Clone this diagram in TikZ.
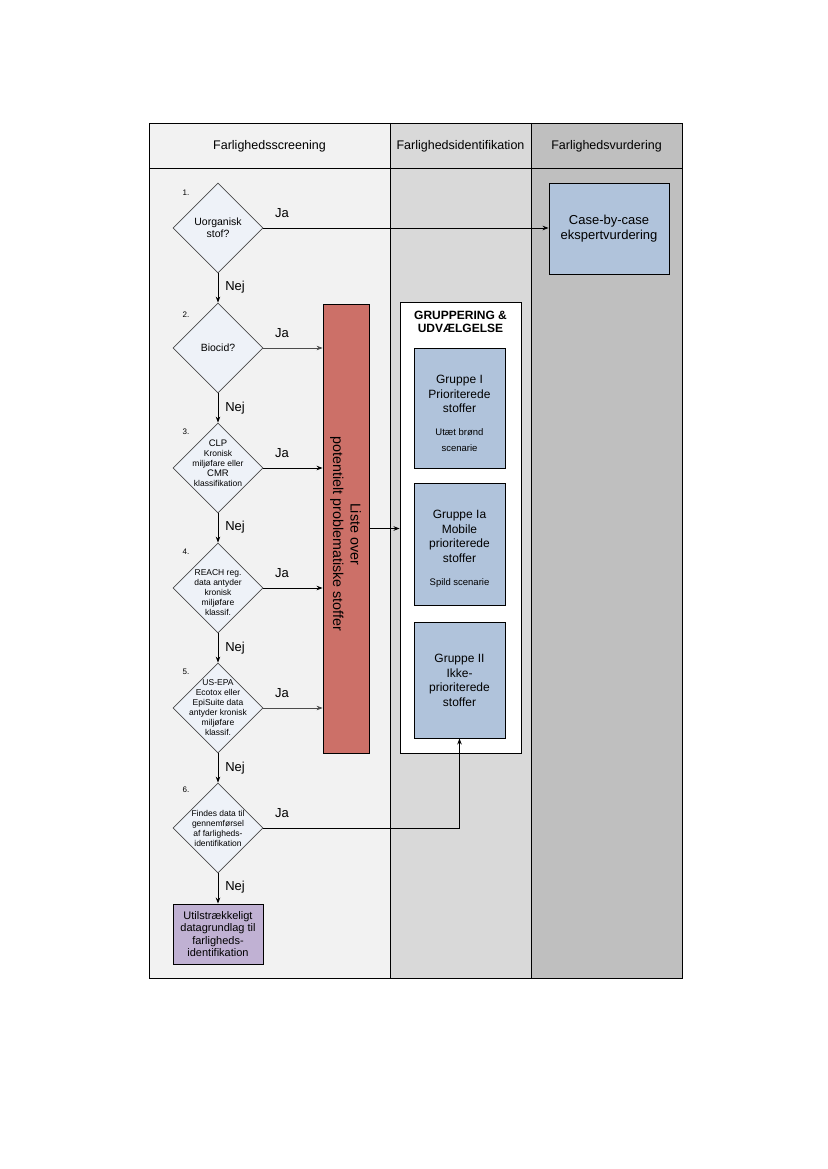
\documentclass[tikz,border=0pt]{standalone}
\usepackage{fontspec}
\setmainfont{Liberation Sans}
\usetikzlibrary{shapes.geometric,arrows.meta}
\definecolor{laneA}{HTML}{F2F2F2}
\definecolor{laneB}{HTML}{D9D9D9}
\definecolor{laneC}{HTML}{BFBFBF}
\definecolor{diafill}{HTML}{EEF2F8}
\definecolor{bluebox}{HTML}{B0C3DB}
\definecolor{redbox}{HTML}{CC7068}
\definecolor{purplebox}{HTML}{C0B1D3}
\definecolor{diaedge}{HTML}{4A4A4A}
\begin{document}
\begin{tikzpicture}[x=1pt,y=-1pt,
  frame/.style={draw=black, line width=0.9pt},
  hdr/.style={font=\fontsize{12.5}{14}\selectfont, inner sep=0pt},
  dia/.style={diamond, draw=diaedge, fill=diafill, minimum width=90pt, minimum height=90pt, inner sep=0pt, line width=0.8pt},
  dtext/.style={align=center, font=\fontsize{8.5}{10}\selectfont, inner sep=0pt},
  dbig/.style={align=center, font=\fontsize{10.5}{12}\selectfont, inner sep=0pt},
  num/.style={font=\fontsize{8}{9}\selectfont, inner sep=0pt},
  yes/.style={font=\fontsize{13}{14}\selectfont, inner sep=0pt},
  arr/.style={draw=black, line width=0.8pt, -{Stealth[length=6pt,width=4.5pt]}},
  bbox/.style={draw=black, fill=bluebox, line width=0.9pt, align=center, inner sep=0pt},
  btext/.style={align=center, font=\fontsize{12}{14.5}\selectfont, inner sep=0pt},
  stext/.style={align=center, font=\fontsize{9.5}{16}\selectfont, inner sep=0pt},
]
\useasboundingbox[fill=white] (0,0) rectangle (827,1169);
% lanes
\fill[laneA] (149,123) rectangle (390,978);
\fill[laneB] (390,123) rectangle (531,978);
\fill[laneC] (531,123) rectangle (682,978);
\draw[frame] (149,123) rectangle (682,978);
\draw[frame] (149,168) -- (682,168);
\draw[frame] (390,123) -- (390,978);
\draw[frame] (531,123) -- (531,978);
\node[hdr] (h1) at (269.5,146) {Farlighedsscreening};
\node[hdr] (h2) at (460.5,146) {Farlighedsidentifikation};
\node[hdr] (h3) at (606.5,146) {Farlighedsvurdering};

% diamonds
\node[dia] (d1) at (218,228) {};
\node[dia] (d2) at (218,348) {};
\node[dia] (d3) at (218,468) {};
\node[dia] (d4) at (218,588) {};
\node[dia] (d5) at (218,708) {};
\node[dia] (d6) at (218,828) {};
\node[dbig] (t1) at (218,228) {Uorganisk\\stof?};
\node[dbig] (t2) at (218,348) {Biocid?};
\node[dtext] (t3) at (218,463) {{\fontsize{9.5}{10}\selectfont CLP}\\Kronisk\\milj\o fare eller\\{\fontsize{9.5}{10}\selectfont CMR}\\klassifikation};
\node[dtext] (t4) at (218,593) {REACH reg.\\data antyder\\kronisk\\milj\o fare\\klassif.};
\node[dtext] (t5) at (218,708) {US-EPA\\Ecotox eller\\EpiSuite data\\antyder kronisk\\milj\o fare\\klassif.};
\node[dtext] (t6) at (218,828) {Findes data til\\gennemf\o rsel\\af farligheds-\\identifikation};
\node[num] (n1) at (186,193) {1.};
\node[num] (n2) at (186,315) {2.};
\node[num] (n3) at (186,432) {3.};
\node[num] (n4) at (186,552) {4.};
\node[num] (n5) at (186,672) {5.};
\node[num] (n6) at (186,790) {6.};

% boxes
\node[bbox, minimum width=120pt, minimum height=91pt] (case) at (609,228.5) {};
\node[btext, font=\fontsize{13}{15}\selectfont] (caset) at (609,229) {Case-by-case\\ekspertvurdering};
\node[draw=black, fill=redbox, line width=0.9pt, minimum width=46pt, minimum height=449pt, inner sep=0pt] (liste) at (346,528.5) {};
\node[rotate=-90, align=center, font=\fontsize{14.3}{17.5}\selectfont, inner sep=0pt] (listet) at (345.5,534) {Liste over\\potentielt problematiske stoffer};
\node[draw=black, fill=white, line width=0.9pt, minimum width=121pt, minimum height=451pt, inner sep=0pt] (grp) at (460.5,527.5) {};
\node[align=center, font=\bfseries\fontsize{12}{13}\selectfont, inner sep=0pt] (grpt) at (460.5,322) {GRUPPERING \&\\UDV\AE LGELSE};
\node[bbox, minimum width=91pt, minimum height=120pt] (g1) at (459.5,408) {};
\node[bbox, minimum width=91pt, minimum height=122pt] (g2) at (459.5,544) {};
\node[bbox, minimum width=91pt, minimum height=116pt] (g3) at (459.5,680) {};
\node[btext] (g1t) at (459.5,394) {Gruppe I\\Prioriterede\\stoffer};
\node[stext] (g1s) at (459.5,440.5) {Ut\ae t br\o nd\\scenarie};
\node[btext] (g2t) at (459.5,536.5) {Gruppe Ia\\Mobile\\prioriterede\\stoffer};
\node[stext] (g2s) at (459.5,583) {Spild scenarie};
\node[btext] (g3t) at (459.5,680.5) {Gruppe II\\Ikke-\\prioriterede\\stoffer};
\node[draw=black, fill=purplebox, line width=0.9pt, minimum width=90pt, minimum height=60pt, inner sep=0pt] (insuf) at (218,934) {};
\node[align=center, font=\fontsize{11}{12.6}\selectfont, inner sep=0pt] (insuft) at (218,934) {Utilstr\ae kkeligt\\datagrundlag til\\farligheds-\\identifikation};

% connectors
\draw[arr] (d1.south) -- (d2.north);
\draw[arr] (d2.south) -- (d3.north);
\draw[arr] (d3.south) -- (d4.north);
\draw[arr] (d4.south) -- (d5.north);
\draw[arr] (d5.south) -- (d6.north);
\draw[arr] (d6.south) -- (insuf.north);
\draw[arr] (d1.east) -- (d1.east -| case.west);
\draw[arr, draw=black!70, line width=0.6pt] (d2.east) -- (d2.east -| liste.west);
\draw[arr] (d3.east) -- (d3.east -| liste.west);
\draw[arr] (d4.east) -- (d4.east -| liste.west);
\draw[arr, draw=black!70, line width=0.6pt] (d5.east) -- (d5.east -| liste.west);
\draw[arr] (liste.east) -- (liste.east -| grp.west);
\draw[arr] (d6.east) -| (g3.south);

% labels
\node[yes] (ja1) at (282,213) {Ja};
\node[yes] (ja2) at (282,333) {Ja};
\node[yes] (ja3) at (282,453) {Ja};
\node[yes] (ja4) at (282,573) {Ja};
\node[yes] (ja5) at (282,693) {Ja};
\node[yes] (ja6) at (282,813) {Ja};
\node[yes] (nej1) at (235,287) {Nej};
\node[yes] (nej2) at (235,408) {Nej};
\node[yes] (nej3) at (235,527) {Nej};
\node[yes] (nej4) at (235,648) {Nej};
\node[yes] (nej5) at (235,768) {Nej};
\node[yes] (nej6) at (235,887) {Nej};
\end{tikzpicture}
\end{document}
